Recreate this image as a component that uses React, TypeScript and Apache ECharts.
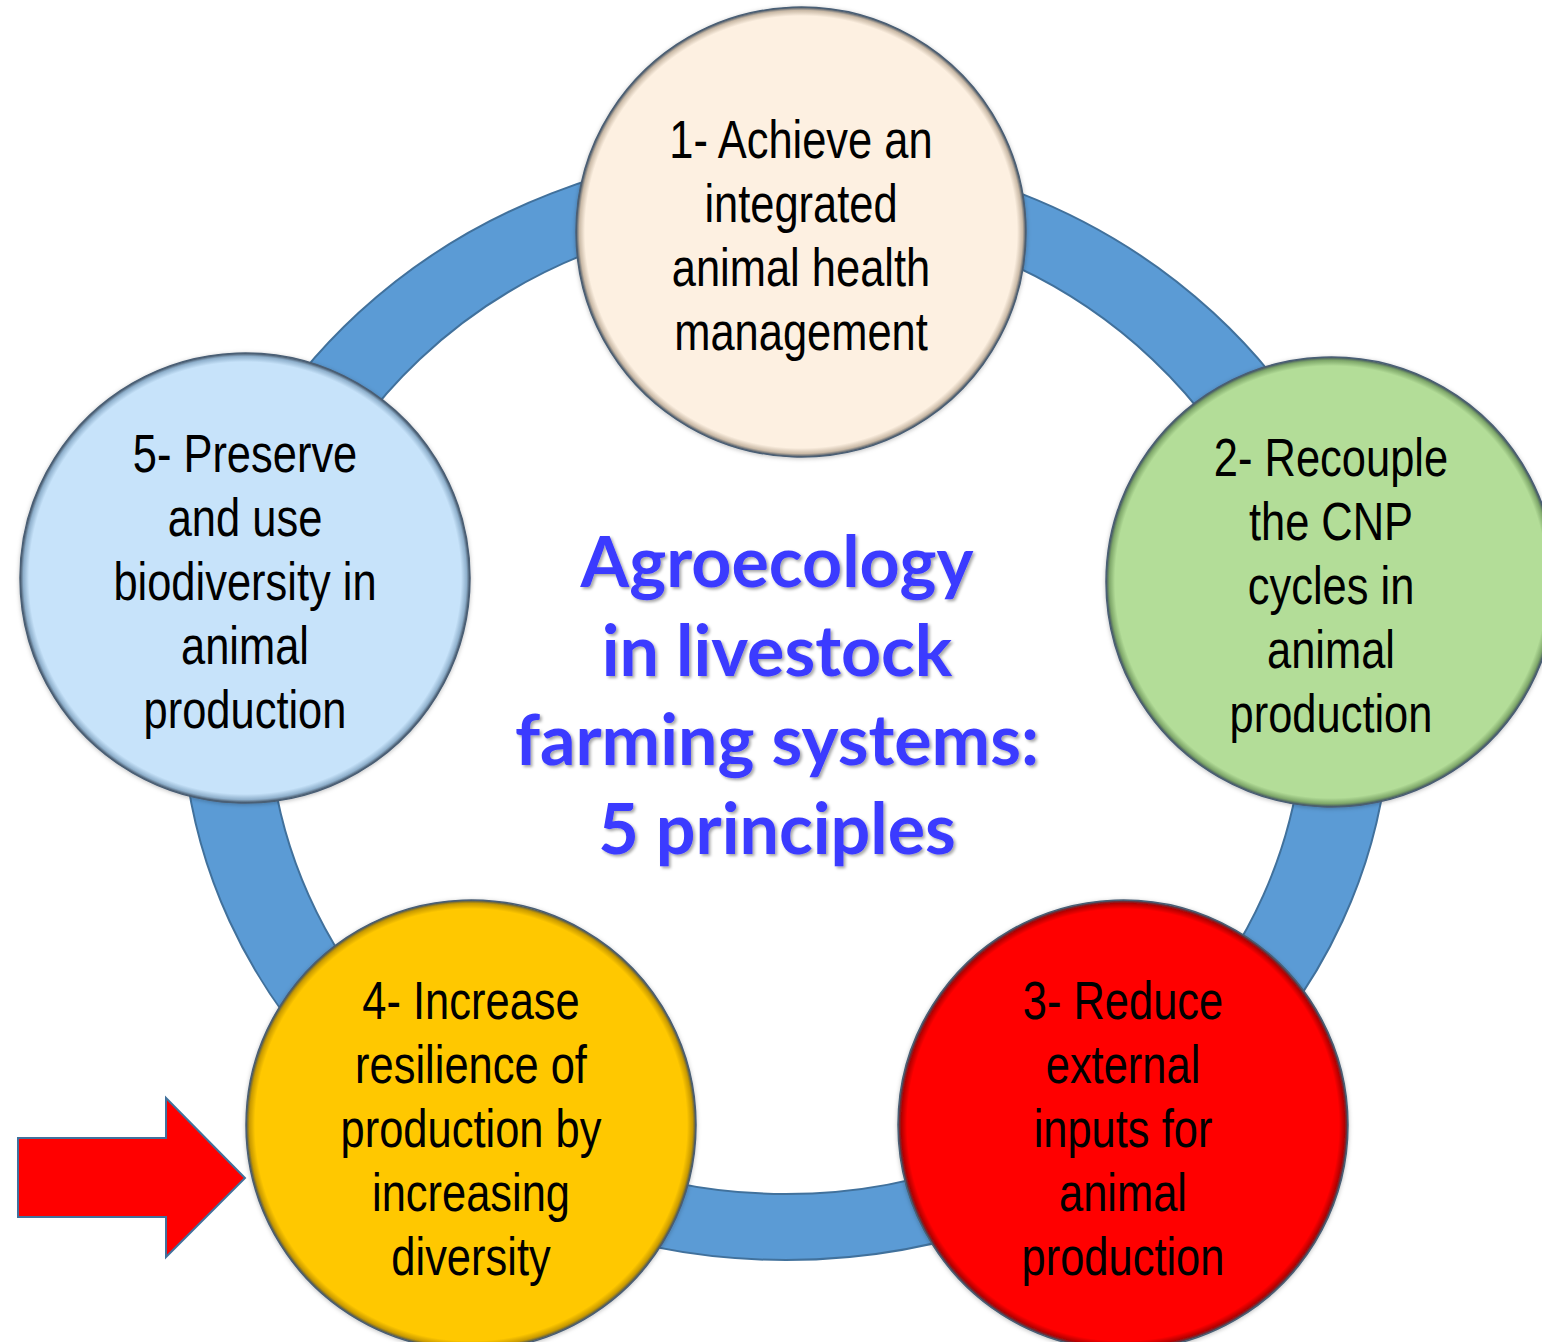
import React, { useEffect, useRef } from "react";
import * as echarts from "echarts";

const principleLabels = [
  "1- Achieve an\nintegrated\nanimal health\nmanagement",
  "2- Recouple\nthe CNP\ncycles in\nanimal\nproduction",
  "3- Reduce\nexternal\ninputs for\nanimal\nproduction",
  "4- Increase\nresilience of\nproduction by\nincreasing\ndiversity",
  "5- Preserve\nand use\nbiodiversity in\nanimal\nproduction",
];
const principleX = [801, 1331, 1123, 471, 245];
const principleY = [232, 582, 1125, 1125, 578];
const principleColors = ["#FDF0E1", "#B3DD98", "#FF0505", "#FFC803", "#C7E3FA"];
const principleEdge = ["#C9B9A6", "#7FA86A", "#B30000", "#C99A00", "#8FB0CC"];
const titleLines = ["Agroecology", "in livestock", "farming systems:", "5 principles"];

const W = 1542;
const H = 1342;

export default function App() {
  const ref = useRef<HTMLDivElement>(null);
  useEffect(() => {
    document.body.style.margin = "0";
    document.body.style.overflow = "hidden";
    const chart = echarts.init(ref.current!, null, { renderer: "svg" });
    const data = principleLabels.map((label, i) => ({
      value: [principleX[i], principleY[i]],
      name: label,
      itemStyle: {
        color: {
          type: "radial",
          x: 0.5,
          y: 0.5,
          r: 0.5,
          colorStops: [
            { offset: 0, color: principleColors[i] },
            { offset: 0.93, color: principleColors[i] },
            { offset: 0.96, color: principleColors[i] },
            { offset: 0.985, color: principleEdge[i] },
            { offset: 1, color: "#3E4E60" },
          ],
        },
      },
    }));
    const baseGraphic: any[] = [
      {
        type: "ellipse",
        z: 0,
        shape: { cx: 786, cy: 705, rx: 604, ry: 555 },
        style: { fill: "#5B9BD5", stroke: "#41719C", lineWidth: 2 },
      },
      {
        type: "ellipse",
        z: 0,
        shape: { cx: 786, cy: 705, rx: 518, ry: 489 },
        style: { fill: "#FFFFFF", stroke: "#41719C", lineWidth: 2 },
      },
      {
        type: "text",
        z: 10,
        x: 777,
        y: 693,
        style: {
          text: titleLines.join("\n"),
          fontFamily: "Lato, 'Open Sans', sans-serif",
          fontWeight: "bold",
          fontSize: 70,
          lineHeight: 89,
          fill: "#3A3AFF",
          align: "center",
          verticalAlign: "middle",
          textShadowColor: "rgba(0,0,0,0.35)",
          textShadowBlur: 3,
          textShadowOffsetX: 2,
          textShadowOffsetY: 2,
        },
      },
      {
        type: "polygon",
        z: 10,
        shape: {
          points: [
            [18, 1138],
            [166, 1138],
            [166, 1098],
            [245, 1178],
            [166, 1257],
            [166, 1217],
            [18, 1217],
          ],
        },
        style: { fill: "#FF0000", stroke: "#41719C", lineWidth: 2 },
      },
    ];
    chart.setOption({
      animation: false,
      grid: { left: 0, right: 0, top: 0, bottom: 0 },
      xAxis: { type: "value", min: 0, max: W, show: false },
      yAxis: { type: "value", min: 0, max: H, inverse: true, show: false },
      graphic: baseGraphic,
      series: [
        {
          type: "scatter",
          z: 5,
          clip: false,
          symbol: "circle",
          symbolSize: 450,
          data,
          itemStyle: {
            borderColor: "#4A5E74",
            borderWidth: 1.5,
            opacity: 1,
            shadowColor: "rgba(0,0,0,0.25)",
            shadowBlur: 4,
            shadowOffsetY: 1,
          },
          label: { show: false },
          emphasis: { disabled: true },
        },
      ],
    });
    // Narrow labels: Liberation Sans compressed horizontally, placed via the grid's scale
    const labelGraphic = principleLabels.map((label, i) => {
      const [px, py] = chart.convertToPixel({ gridIndex: 0 }, [principleX[i], principleY[i]]) as number[];
      return {
        type: "text",
        z: 20,
        x: px,
        y: py + 3,
        scaleX: 0.82,
        style: {
          text: label,
          fontFamily: "'Liberation Sans', Arial, sans-serif",
          fontSize: 53,
          lineHeight: 64,
          fill: "#000000",
          align: "center",
          verticalAlign: "middle",
        },
      };
    });
    chart.setOption({ graphic: [...baseGraphic, ...labelGraphic] });
    return () => chart.dispose();
  }, []);
  return <div ref={ref} style={{ width: W, height: H }} />;
}
